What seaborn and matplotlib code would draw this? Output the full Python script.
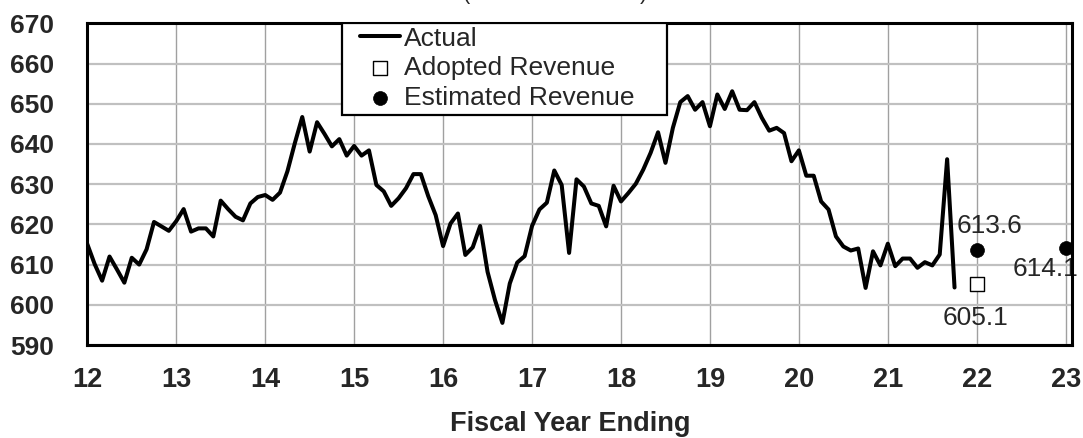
import numpy as np
import matplotlib
matplotlib.use('Agg')
import matplotlib.pyplot as plt
import seaborn as sns
from matplotlib.patches import Rectangle

# monthly actuals, fiscal year 12 onward (one value per month)
start_year = 12
actual = [615.1, 610.1, 606.0, 612.0, 608.8, 605.5, 611.7, 610.0, 613.8, 620.6, 619.5, 618.4,
          620.8, 623.8, 618.2, 619.0, 619.0, 617.0, 625.9, 623.8, 621.9, 621.0, 625.2, 626.8,
          627.3, 626.1, 627.9, 633.2, 640.2, 646.7, 638.1, 645.4, 642.5, 639.4, 641.2, 637.1,
          639.5, 637.1, 638.4, 629.8, 628.2, 624.6, 626.5, 629.0, 632.5, 632.5, 627.0, 622.3,
          614.6, 620.2, 622.7, 612.4, 614.3, 619.6, 608.2, 601.2, 595.5, 605.3, 610.5, 612.1,
          619.6, 623.7, 625.4, 633.4, 629.8, 612.9, 631.2, 629.4, 625.2, 624.6, 619.5, 629.6,
          625.7, 627.8, 630.1, 633.6, 637.8, 642.9, 635.3, 644.0, 650.4, 651.9, 648.5, 650.4,
          644.4, 652.3, 648.7, 653.1, 648.5, 648.4, 650.4, 646.5, 643.3, 644.0, 642.7, 635.7,
          638.4, 632.1, 632.1, 625.7, 623.7, 617.0, 614.5, 613.5, 614.0, 604.2, 613.3, 609.8,
          615.2, 609.6, 611.5, 611.5, 609.2, 610.6, 609.8, 612.5, 636.2, 604.3]

adopted_year = [22]
adopted_value = [605.1]
estimated_year = [22, 23]
estimated_value = [613.6, 614.1]

x_ticks = list(range(12, 24))
y_ticks = list(range(590, 680, 10))

months = start_year + np.arange(len(actual)) / 12.0

sns.set_style('white')
plt.rcParams['font.family'] = ['Liberation Sans', 'DejaVu Sans']

fig = plt.figure(figsize=(10.83, 4.38), dpi=100)
ax = fig.add_axes([0.0806, 0.2123, 0.9092, 0.7345])

sns.lineplot(x=months, y=actual, ax=ax, color='black', linewidth=2.9, label='Actual')
sns.scatterplot(x=adopted_year, y=adopted_value, ax=ax, marker='s', s=110, color='white',
                edgecolor='black', linewidth=1.0, label='Adopted Revenue', zorder=4, clip_on=False)
sns.scatterplot(x=estimated_year, y=estimated_value, ax=ax, marker='o', s=100, color='black',
                edgecolor='black', linewidth=0.5, label='Estimated Revenue', zorder=4, clip_on=False)

ax.set_xlim(12, 23.07)
ax.set_ylim(590, 670)
ax.set_xticks(x_ticks)
ax.set_xticklabels([str(v) for v in x_ticks])
ax.set_yticks(y_ticks)
ax.set_xlabel('')
ax.set_ylabel('')

ax.xaxis.grid(True, color='#a0a0a0', linewidth=1.0)
ax.yaxis.grid(True, color='#c0c0c0', linewidth=1.6)
ax.set_axisbelow(True)

for s in ax.spines.values():
    s.set_visible(True)
    s.set_color('black')
    s.set_linewidth(2.2)

ax.tick_params(axis='x', direction='out', length=6, width=1.3, color='black', pad=10,
               labelsize=19.5)
ax.tick_params(axis='y', direction='out', length=6, width=1.3, color='black', pad=18,
               labelsize=19)
for lab in ax.get_xticklabels() + ax.get_yticklabels():
    lab.set_fontweight('bold')

# value labels
ax.annotate('613.6', (estimated_year[0], estimated_value[0]), xytext=(9.4, 12.5),
            textcoords='offset points', ha='center', va='baseline', fontsize=19)
ax.annotate('605.1', (adopted_year[0], adopted_value[0]), xytext=(-1, -29),
            textcoords='offset points', ha='center', va='baseline', fontsize=19)
ax.annotate('614.1', (estimated_year[1], estimated_value[1]), xytext=(-14.8, -20),
            textcoords='offset points', ha='center', va='baseline', fontsize=19, zorder=2)

# legend with a square box tied to the top spine
ax.add_patch(Rectangle((0.2587, 0.715), 0.33, 0.285, transform=ax.transAxes,
                       facecolor='white', edgecolor='black', linewidth=1.6, zorder=4))
leg = ax.legend(loc='upper left', bbox_to_anchor=(0.277, 0.99), frameon=False,
                fontsize=19, borderpad=0, borderaxespad=0, handlelength=1.5,
                handletextpad=0.15, labelspacing=0.22)
leg.set_zorder(6)

fig.text(0.527, 1 - 424 / 438, 'Fiscal Year Ending', ha='center', va='center',
         fontsize=19.5, fontweight='bold')
fig.text(0.513, 1.003, '(Millions of Dollars)', ha='center', va='baseline', fontsize=15.7)

fig.savefig('out.png', dpi=100)
